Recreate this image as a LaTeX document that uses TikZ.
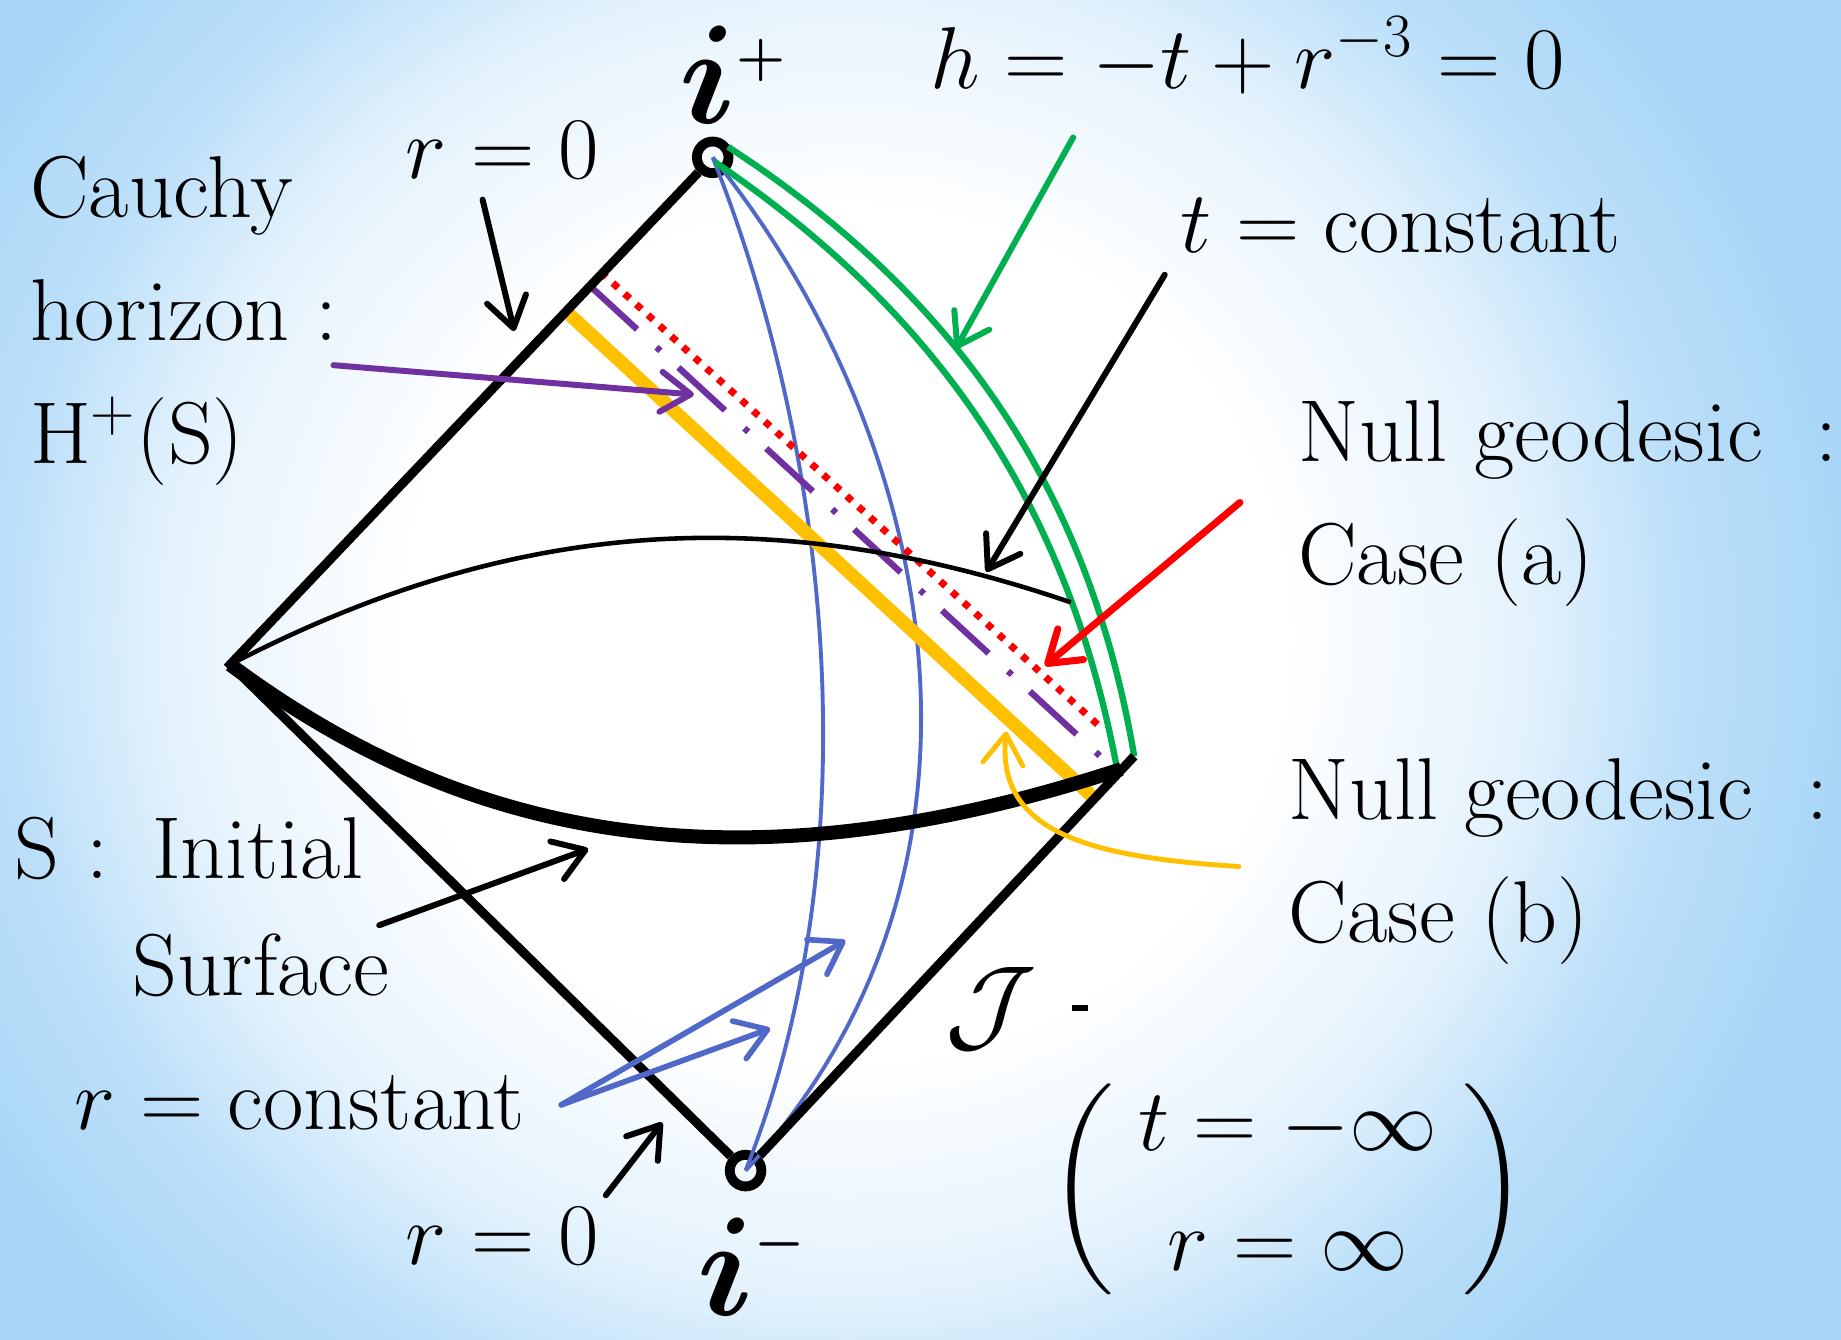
\RequirePackage{fix-cm}
\documentclass[tikz,border=0pt]{standalone}
\usepackage{amsmath,amssymb,bm}
\usepackage{xcolor}
\definecolor{sky}{RGB}{166,213,247}
\definecolor{rcol}{RGB}{80,104,200}
\definecolor{hcol}{RGB}{0,176,80}
\definecolor{chcol}{RGB}{112,48,160}
\definecolor{acol}{RGB}{255,0,0}
\definecolor{bcol}{RGB}{255,192,0}
\usepackage{tikz}
\usetikzlibrary{arrows.meta,positioning,calc}
\pgfdeclareradialshading{backdrop}{\pgfpoint{0bp}{0bp}}{%
  color(0bp)=(white); color(11bp)=(white); color(17bp)=(sky!30!white);%
  color(21bp)=(sky!75!white); color(26bp)=(sky); color(60bp)=(sky)}
\tikzset{
  lbl/.style={font=\fontsize{25}{30}\selectfont,inner sep=0pt},
  bigi/.style={font=\fontsize{40}{44}\selectfont,inner sep=0pt},
  vertex/.style={circle,draw,line width=2.8pt,minimum size=9pt,inner sep=0pt},
  rim/.style={line width=2.6pt},
  slice/.style={line width=4pt},
  tcurve/.style={line width=1.3pt},
  rcurve/.style={rcol,line width=1.1pt},
  hcurve/.style={hcol,line width=1.8pt},
  geoa/.style={acol,line width=2pt,dash pattern=on 2pt off 2.5pt},
  geob/.style={bcol,line width=3.8pt},
  chline/.style={chcol,line width=1.8pt,dash pattern=on 18pt off 7.5pt on 1.5pt off 7pt},
  pointer/.style={-{Straight Barb[length=3mm,width=4mm,round]},line width=1.7pt,line cap=round},
}
\newcommand\tinysign[2]{\raisebox{#1}{\fontsize{16}{16}\selectfont$\bm{#2}$}}

\begin{document}
\begin{tikzpicture}[x=0.11741mm,y=-0.11741mm]
\useasboundingbox (0,0) rectangle (1568,1141);
\shade[shading=backdrop] (-130,-280) rectangle (1570,1360);
\node[vertex] (ip) at (607,134) {};
\node[vertex] (im) at (635,997) {};
\coordinate (L) at (196,566);
\coordinate (R) at (966,644);
\draw[rcurve] (ip.center) .. controls (705,380) and (745,720) .. (im.center);
\draw[rcurve] (ip.center) .. controls (790,360) and (880,730) .. (im.center);
\draw[geob] (483,266) -- (932,680);
\draw[chline] (503,244) -- (937,644);
\draw[geoa] (512,232) -- (937,619);
\draw[hcurve] (609,138) .. controls (800,268) and (910,430) .. (952,658);
\draw[hcurve] (620,125) .. controls (818,254) and (928,420) .. (R);
\draw[tcurve] (L) .. controls (420,450) and (640,420) .. (912,513);
\draw[slice] (L) .. controls (390,710) and (620,765) .. (955,655);
\draw[rim] (ip) -- (L) -- (im) -- (R);
\node[bigi,anchor=base] (iplus) at (624,105) {$\bm{i}$\tinysign{14pt}{+}};
\node[bigi,anchor=base] (iminus) at (640,1120) {$\bm{i}$\tinysign{16pt}{-}};
\node[lbl,anchor=base] (hzero) at (1063,75) {$h=-t+r^{-3}=0$};
\node[lbl,anchor=base] (rtop) at (428,152) {$r=0$};
\node[lbl,anchor=base west] (cauchy) at (25,185) {Cauchy};
\node[lbl,anchor=base west] (horizon) at (25,290) {horizon :};
\node[lbl,anchor=base west] (hplus) at (25,395) {H$^+$(S)};
\node[lbl,anchor=base west] (tconst) at (1005,215) {$t=\mathrm{constant}$};
\node[lbl,anchor=base west] (nulla) at (1105,393) {Null geodesic\ \ :};
\node[lbl,anchor=base west] (casea) at (1105,498) {Case (a)};
\node[lbl,anchor=base west] (nullb) at (1097,698) {Null geodesic\ \ :};
\node[lbl,anchor=base west] (caseb) at (1097,803) {Case (b)};
\node[lbl,anchor=base west] (sinit) at (12,748) {S :\enspace Initial};
\node[lbl,anchor=base west] (surf) at (112,848) {Surface};
\node[lbl,anchor=base west] (rconst) at (63,962) {$r=\mathrm{constant}$};
\node[lbl,anchor=base] (rbot) at (428,1077) {$r=0$};
\node[lbl,font=\fontsize{30}{34}\selectfont,anchor=base west] (scri) at (805,885) {$\mathcal{J}$\hspace{10pt}\rule[8pt]{4.5pt}{1.8pt}};
\node[lbl] (asym) at (1097,1013) {$\left(\;\begin{matrix} t=-\infty\\[4pt] r=\infty\end{matrix}\;\right)$};
\coordinate (rtopt) at (411,170);
\coordinate (rtoph) at (438,282);
\coordinate (cht) at (284,311);
\coordinate (chh) at (591,336);
\coordinate (ht) at (914,117);
\coordinate (hh) at (814,297);
\coordinate (tt) at (992,234);
\coordinate (th) at (840,487);
\coordinate (at) at (1056,428);
\coordinate (ah) at (890,567);
\coordinate (bt) at (1055,738);
\coordinate (bh) at (857,623);
\coordinate (st) at (323,788);
\coordinate (sh) at (501,723);
\coordinate (rct) at (478,941);
\coordinate (rch1) at (720,801);
\coordinate (rch2) at (656,876);
\coordinate (rbott) at (516,1018);
\coordinate (rboth) at (564,956);
\draw[pointer] (rtopt) -- (rtoph);
\draw[pointer,chcol] (cht) -- (chh);
\draw[pointer,hcol] (ht) -- (hh);
\draw[pointer] (tt) -- (th);
\draw[pointer,acol,line width=2pt] (at) -- (ah);
\draw[pointer,bcol,line width=1.4pt] (bt) .. controls (930,730) and (848,710) .. (bh);
\draw[pointer] (st) -- (sh);
\draw[pointer,rcol,line width=1.6pt] (rct) -- (rch1);
\draw[pointer,rcol,line width=1.6pt] (rct) -- (rch2);
\draw[pointer] (rbott) -- (rboth);
\end{tikzpicture}
\end{document}
